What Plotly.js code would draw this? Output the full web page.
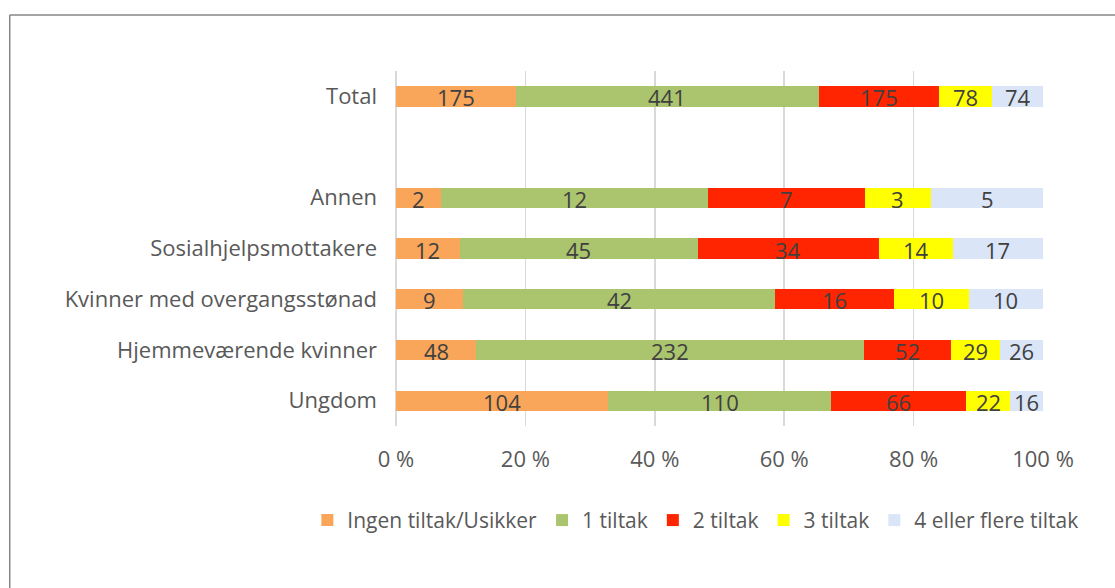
<!DOCTYPE html>
<html>
<head>
<meta charset="utf-8">
<script src="https://cdn.plot.ly/plotly-3.0.1.min.js"></script>
<style>
html,body{margin:0;padding:0;background:#fff;}
#chart{width:1115px;height:588px;}
</style>
</head>
<body>
<div id="chart"></div>
<script>
// ---- Data ----
const categories = ['Total', 'Annen', 'Sosialhjelpsmottakere', 'Kvinner med overgangsstønad', 'Hjemmeværende kvinner', 'Ungdom'];
const axisOrder = ['Ungdom', 'Hjemmeværende kvinner', 'Kvinner med overgangsstønad', 'Sosialhjelpsmottakere', 'Annen', ' ', 'Total'];
const seriesNames = ['Ingen tiltak/Usikker', '1 tiltak', '2 tiltak', '3 tiltak', '4 eller flere tiltak'];
const ingenTiltak = [175, 2, 12, 9, 48, 104];
const ettTiltak = [441, 12, 45, 42, 232, 110];
const toTiltak = [175, 7, 34, 16, 52, 66];
const treTiltak = [78, 3, 14, 10, 29, 22];
const fireTiltak = [74, 5, 17, 10, 26, 16];
const xTickVals = [0, 20, 40, 60, 80, 100];
const xTickText = ['0 %', '20 %', '40 %', '60 %', '80 %', '100 %'];

const seriesValues = [ingenTiltak, ettTiltak, toTiltak, treTiltak, fireTiltak];
const seriesColors = ['#F9A65A', '#ABC46E', '#FF2500', '#FFFF00', '#DAE5F8'];

const FONT = 'Open Sans, sans-serif';

const traces = seriesValues.map((vals, i) => ({
  type: 'bar',
  orientation: 'h',
  name: seriesNames[i],
  y: categories,
  x: vals,
  marker: {color: seriesColors[i], line: {width: 0}},
  hoverinfo: 'skip'
}));

// data labels at the middle of each normalised segment
const annotations = [];
categories.forEach((cat, r) => {
  const total = seriesValues.reduce((s, arr) => s + arr[r], 0);
  let cum = 0;
  seriesValues.forEach((arr) => {
    const pct = arr[r] / total * 100;
    annotations.push({
      x: cum + pct / 2, y: cat, xref: 'x', yref: 'y',
      text: String(arr[r]), showarrow: false, yshift: -1,
      font: {family: FONT, size: 22, color: '#404040'}
    });
    cum += pct;
  });
});

const layout = {
  width: 1115, height: 588,
  paper_bgcolor: '#ffffff', plot_bgcolor: '#ffffff',
  margin: {l: 396, r: 71.5, t: 70.6, b: 161.6, autoexpand: false},
  barmode: 'stack', barnorm: 'percent', bargap: 0.6,
  showlegend: true,
  legend: {
    orientation: 'h', xref: 'paper', yref: 'paper',
    x: -0.137, xanchor: 'left', y: -0.266, yanchor: 'middle',
    font: {family: FONT, size: 21, color: '#595959'},
    traceorder: 'normal', itemwidth: 30
  },
  xaxis: {
    range: [0, 100], tickvals: xTickVals, ticktext: xTickText,
    showgrid: true, gridcolor: '#D9D9D9', gridwidth: 1.5,
    zeroline: true, zerolinecolor: '#D9D9D9', zerolinewidth: 1.5,
    showline: false, ticks: '', ticklabelstandoff: 18,
    tickfont: {family: FONT, size: 22, color: '#595959'},
    fixedrange: true
  },
  yaxis: {
    type: 'category', categoryorder: 'array', categoryarray: axisOrder,
    range: [-0.5, 6.5],
    showgrid: false, zeroline: false, showline: false, ticks: '',
    ticklabelstandoff: 18,
    tickfont: {family: FONT, size: 22, color: '#595959'},
    fixedrange: true
  },
  annotations: annotations,
  shapes: [
    {type: 'line', xref: 'paper', yref: 'paper', x0: -0.597, x1: 1.2, y0: 1.1577, y1: 1.1577,
     line: {color: '#878787', width: 1.5}},
    {type: 'line', xref: 'paper', yref: 'paper', x0: -0.597, x1: -0.597, y0: 1.1577, y1: -0.6,
     line: {color: '#878787', width: 1.5}}
  ]
};

Plotly.newPlot('chart', traces, layout, {displayModeBar: false, staticPlot: true});
</script>
</body>
</html>
